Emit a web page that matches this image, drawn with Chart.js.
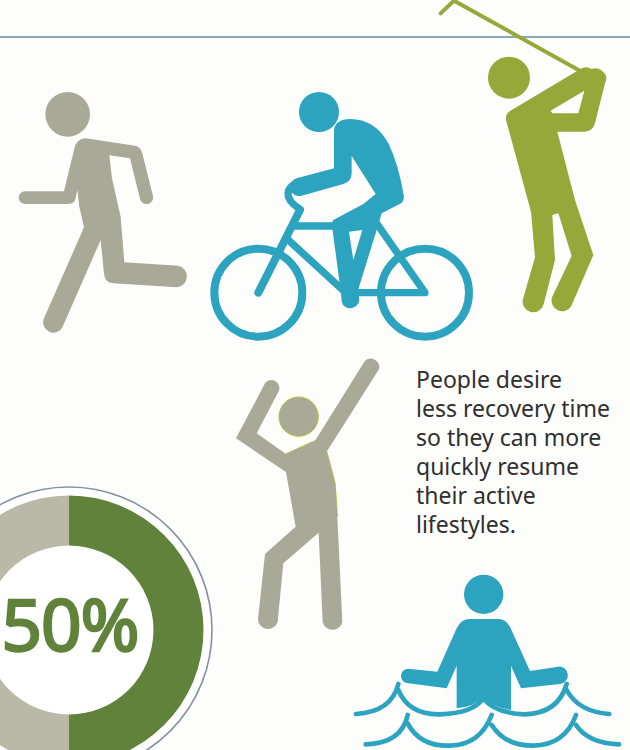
<!DOCTYPE html>
<html>
<head>
<meta charset="utf-8">
<title>Active lifestyles</title>
<script src="https://cdn.jsdelivr.net/npm/chart.js@4"></script>
<style>
  html, body { margin: 0; padding: 0; }
  body { position: relative; width: 630px; height: 750px; overflow: hidden; background: #fdfdfb; }
  #rule { position: absolute; left: 0; top: 36px; width: 630px; height: 2px; background: #8ba8ba; }
  #figures { position: absolute; left: 0; top: 0; }
  #shareChart { position: absolute; left: -81px; top: 480px; }
  #caption {
    position: absolute; left: 416px; top: 365px; margin: 0; width: 214px;
    font: 23px/28.9px "Noto Sans", sans-serif; color: #2f2f30; white-space: nowrap;
  }
</style>
</head>
<body>
<div id="rule"></div>

<!-- activity pictograms, each group uses its own local coordinates at 1/3 scale -->
<svg id="figures" width="630" height="750" viewBox="0 0 630 750">
  <!-- runner -->
  <g transform="translate(0 0) scale(.3333)" fill="#a8a996">
    <circle cx="203" cy="343" r="67"/>
    <path d="M192 574L222 450Q228 415 258 415L405 437Q420 440 426 456L459 588A20 20 0 0 1 421 600L390 475L328 466L336 535L362 650L373 787L535 797A33 33 0 0 1 531 862L340 850Q315 848 312 822L302 720L188 980A30 30 0 0 1 132 955L252 682L238 620L232 570L226 598Q222 612 205 612L75 612A19 19 0 0 1 75 574Z"/>
  </g>

  <!-- cyclist -->
  <g transform="translate(200 80) scale(.3333)">
    <g fill="none" stroke="#2da4bf" stroke-linecap="round" stroke-linejoin="round">
      <circle cx="175" cy="638" r="132" stroke-width="24"/>
      <circle cx="675" cy="638" r="132" stroke-width="24"/>
      <path stroke-width="24" d="M175 638L300 390"/>
      <path stroke-width="22" d="M300 388Q262 362 264 340Q266 318 295 308"/>
      <path stroke-width="22" d="M285 438L405 438"/>
      <path stroke-width="22" d="M265 480L450 650"/>
      <path stroke-width="22" d="M450 638L675 638L530 430"/>
    </g>
    <circle cx="357" cy="96" r="60" fill="#2da4bf"/>
    <path fill="#2da4bf" fill-rule="evenodd" d="M402 150Q405 118 450 117Q525 117 565 190Q595 250 612 350Q612 365 598 373L545 400L530 450L475 628L478 660A27 27 0 0 1 425 665L423 640L395 430L400 420L490 372L527 342L455 228L455 280Q455 305 430 312L305 347A27 27 0 0 1 290 295L402 265ZM447 455L487 450L460 540Z"/>
  </g>

  <!-- golfer -->
  <g transform="translate(430 0) scale(.3333)">
    <path fill="none" stroke="#97a83a" stroke-width="12" stroke-linecap="round" stroke-linejoin="round" d="M455 215L72 2L32 40"/>
    <circle cx="237" cy="233" r="63" fill="#97a83a"/>
    <path fill="#97a83a" fill-rule="evenodd" d="M245 330L455 205Q470 198 485 207Q510 198 527 225Q532 235 525 250L495 370Q488 395 465 395L382 395L435 600L490 765L424 918A32 32 0 0 1 366 892L425 768L385 640L367 645L375 780L341 913A32 32 0 0 1 279 897L315 772L303 635L228 360Q225 340 245 330ZM362 332L463 272L445 340L367 340Z"/>
  </g>

  <!-- arms raised -->
  <g transform="translate(230 350) scale(.3333)" fill="#a8a996">
    <circle cx="206" cy="200" r="59" stroke="#b9c22f" stroke-width="3"/>
    <path fill="none" stroke="#b9c22f" stroke-width="4" d="M168 312L250 275M290 305L315 400L322 500"/>
    <path d="M18 265L105 100A24 24 0 0 1 147 122L80 250L168 312L250 275L258 268L405 32A26 26 0 0 1 447 58L290 305L315 400L322 500L337 815A30 30 0 0 1 278 815L266 548L160 640L143 815A30 30 0 0 1 84 808L105 612L197 530L168 366Z"/>
  </g>

  <!-- swimmer -->
  <g transform="translate(345 570) scale(.3333)">
    <circle cx="416" cy="73" r="59" fill="#2da4bf"/>
    <path fill="#2da4bf" d="M335 175Q348 147 375 147L460 147Q485 147 497 175L555 303L640 290A26 26 0 0 1 645 342L528 355L498 287L498 420Q440 410 415 380Q390 410 335 415L335 287L305 355L190 340A22 22 0 0 1 190 296L277 305Z"/>
    <g fill="none" stroke="#2da4bf" stroke-width="14" stroke-linecap="round" stroke-linejoin="round">
      <path d="M33 432Q140 425 160 342M160 360Q190 435 285 433Q385 430 415 385Q450 430 540 433Q640 430 665 342M665 360Q700 425 793 432"/>
      <path d="M62 523Q170 520 188 435M188 460Q225 530 315 527Q405 525 440 435M440 465Q480 528 565 527Q660 525 693 435M693 465Q730 520 822 523"/>
    </g>
  </g>
</svg>

<p id="caption">People desire<br>less recovery time<br>so they can more<br>quickly resume<br>their active<br>lifestyles.</p>

<canvas id="shareChart" width="300" height="300"></canvas>

<script>
const categories = ['Yes', 'Other'];
const shareValues = [50, 50];
const sliceColors = ['#61823a', '#bab8a6'];

// white disc with a thin outline behind the ring, percentage in the hole
const ringDecor = {
  id: 'ringDecor',
  beforeDatasetsDraw(chart) {
    const { ctx } = chart;
    const arc = chart.getDatasetMeta(0).data[0];
    ctx.save();
    ctx.beginPath();
    ctx.arc(arc.x, arc.y, 143, 0, Math.PI * 2);
    ctx.fillStyle = '#ffffff';
    ctx.fill();
    ctx.lineWidth = 1.6;
    ctx.strokeStyle = '#8492a0';
    ctx.stroke();
    ctx.restore();
  },
  afterDatasetsDraw(chart) {
    const { ctx } = chart;
    const arc = chart.getDatasetMeta(0).data[0];
    ctx.save();
    ctx.font = '71px "Noto Sans", sans-serif';
    ctx.letterSpacing = '-1px';
    ctx.fillStyle = sliceColors[0];
    ctx.strokeStyle = sliceColors[0];
    ctx.lineWidth = 2.4;
    ctx.textAlign = 'center';
    ctx.textBaseline = 'alphabetic';
    const label = shareValues[0] + '%';
    ctx.fillText(label, arc.x + 1, arc.y + 21);
    ctx.strokeText(label, arc.x + 1, arc.y + 21);
    ctx.restore();
  }
};

document.addEventListener('DOMContentLoaded', () => {
  const ctx = document.getElementById('shareChart').getContext('2d');
  new Chart(ctx, {
    type: 'doughnut',
    data: {
      labels: categories,
      datasets: [{
        data: shareValues,
        backgroundColor: sliceColors,
        borderWidth: 0,
        radius: 134.5,
        cutout: '62.8%'
      }]
    },
    options: {
      responsive: false,
      animation: false,
      plugins: {
        legend: { display: false },
        tooltip: { enabled: false }
      }
    },
    plugins: [ringDecor]
  });
});
</script>
</body>
</html>
